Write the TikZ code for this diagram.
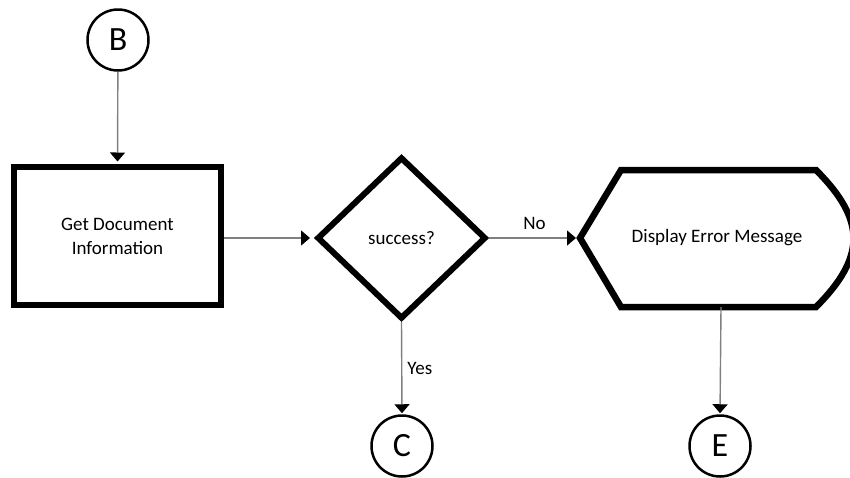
\documentclass[tikz,border=0pt]{standalone}
\usepackage{fontspec}
\setmainfont{Carlito}
\usetikzlibrary{shapes.geometric,arrows.meta}
\definecolor{conn}{RGB}{128,128,128}
\tikzset{
  conn/.style={draw=conn, line width=1.4pt, -{Triangle[width=15pt,length=9pt,fill=black,color=black]}},
  offpage/.style={circle, draw=black, line width=2.5pt, minimum size=61pt, inner sep=0pt, font=\fontsize{34}{40}\selectfont},
  procbox/.style={rectangle, draw=black, line width=6pt, minimum width=207pt, minimum height=138pt, inner sep=0pt, align=center, font=\fontsize{19}{24}\selectfont},
  decbox/.style={diamond, draw=black, line width=6pt, minimum width=169pt, minimum height=162pt, inner sep=0pt, font=\fontsize{19}{24}\selectfont},
  lbl/.style={font=\fontsize{19}{24}\selectfont, inner sep=0pt},
}
\begin{document}
\begin{tikzpicture}[x=1pt,y=-1pt]
\useasboundingbox (0,0) rectangle (850,477);
\begin{scope}
\clip (0,0) rectangle (850,477);
\node[offpage] (B) at (118,40) {B};
\node[procbox] (get) at (117.5,236) {Get Document\\Information};
\node[decbox] (dec) at (401.5,238) {success?};
\coordinate (hexW) at (580,238);
\coordinate (hexS) at (721,307);
\draw[black, line width=6.5pt, line join=miter]
  (hexW) -- (621,170) -- (816,170) .. controls (866,220) and (866,257) .. (816,307) -- (621,307) -- cycle;
\node[lbl] (disp) at (717,238) {Display Error Message};
\node[offpage] (C) at (402,446) {C};
\node[offpage] (E) at (720,446) {E};
\draw[conn, shorten >=2.5pt] (B) -- (get.north);
\draw[conn, shorten >=4pt] (get.east |- dec.west) -- (dec.west);
\draw[conn, shorten >=4pt] (dec.east) -- node[lbl, above=8pt] (no) {No} (hexW);
\draw[conn, shorten >=1pt] (dec.south) -- node[lbl, right=5pt] (yes) {Yes} (C.north);
\draw[conn, shorten >=1pt] (hexS) -- (E.north);
\end{scope}
\end{tikzpicture}
\end{document}
